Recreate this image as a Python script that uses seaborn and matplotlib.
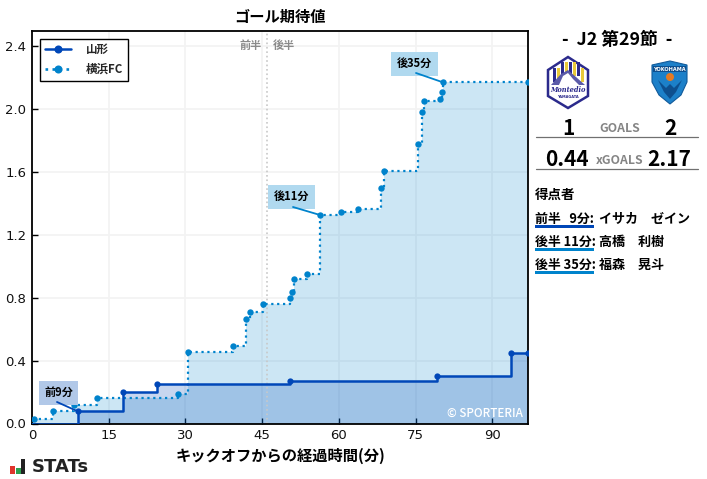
import matplotlib
matplotlib.use("Agg")
import matplotlib.pyplot as plt
from matplotlib.patches import Polygon, Circle, Rectangle
from matplotlib.lines import Line2D
import seaborn as sns
import pandas as pd

team_home = "山形"
team_away = "横浜FC"
home_min = [0, 8.9, 17.7, 24.5, 50.5, 79.2, 93.6, 97]
home_xg = [0, 0.077, 0.198, 0.249, 0.268, 0.30, 0.446, 0.446]
away_min = [0, 0.45, 4.2, 8.3, 12.8, 28.6, 30.6, 39.4, 41.9, 42.7, 45.1, 50.4, 50.9, 51.3, 53.8,
            56.4, 60.4, 63.7, 68.2, 68.8, 75.4, 76.3, 76.6, 79.8, 80.2, 80.3, 97]
away_xg = [0, 0.027, 0.077, 0.117, 0.16, 0.19, 0.452, 0.49, 0.666, 0.707, 0.757, 0.796, 0.834, 0.917, 0.948,
           1.325, 1.342, 1.362, 1.495, 1.603, 1.775, 1.978, 2.048, 2.065, 2.105, 2.17, 2.17]
xticks = [0, 15, 30, 45, 60, 75, 90]
yticks = [0.0, 0.4, 0.8, 1.2, 1.6, 2.0, 2.4]
scorers = [("前半   9分:", "イサカ　ゼイン"), ("後半 11分:", "高橋　利樹"), ("後半 35分:", "福森　晃斗")]

HOME = "#0047b8"
AWAY = "#0083cc"
W, H = 707, 479
JP = ["Noto Sans CJK JP", "DejaVu Sans"]

sns.set_theme(style="ticks")
plt.rcParams["font.family"] = ["DejaVu Sans"]
fig = plt.figure(figsize=(W / 100, H / 100), dpi=100)
ax = fig.add_axes([32 / W, 1 - 423.5 / H, (528 - 32) / W, (423.5 - 31) / H])

ax.fill_between(away_min, away_xg, 0, step="post", color=AWAY, alpha=0.2, lw=0)
ax.fill_between(home_min, home_xg, 0, step="post", color=HOME, alpha=0.22, lw=0)
df_home = pd.DataFrame({"min": home_min, "xg": home_xg})
df_away = pd.DataFrame({"min": away_min, "xg": away_xg})
sns.lineplot(data=df_home, x="min", y="xg", ax=ax, color=HOME, lw=1.8, estimator=None,
             drawstyle="steps-post", marker="o", markersize=4.5, markeredgewidth=0,
             markevery=(1, 1), label=team_home, legend=False, clip_on=True, zorder=4)
sns.lineplot(data=df_away, x="min", y="xg", ax=ax, color=AWAY, lw=1.6, ls=":", estimator=None,
             drawstyle="steps-post", marker="o", markersize=4.6, markeredgewidth=0,
             markevery=(1, 1), label=team_away, legend=False, clip_on=True, zorder=3)

ax.set_xlim(0, 97)
ax.set_ylim(0, 2.495)
ax.set_xticks(xticks)
ax.set_yticks(yticks)
ax.set_yticklabels([f"{v:.1f}" for v in yticks])
ax.grid(True, color="#f3f3f3", lw=1.3)
ax.set_axisbelow(True)
ax.tick_params(direction="in", length=4, width=1, labelsize=9.5, color="black", labelcolor="#111111", pad=4)
for s in ax.spines.values():
    s.set_visible(True)
    s.set_color("black")
    s.set_linewidth(1.3)
ax.axvline(46, color="#c8c8c8", lw=1.2, ls=":", zorder=1)
ax.set_xlabel("")
ax.set_ylabel("")

handles = [
    Line2D([], [], color=HOME, lw=1.8, marker="o", ms=5.8, mew=0),
    Line2D([], [], color=AWAY, lw=1.9, ls=":", marker="o", ms=5.8, mew=0),
]
leg = ax.legend(handles, [team_home, team_away], loc="upper left", bbox_to_anchor=(8 / 496, 1 - 7.5 / 392.5),
                borderaxespad=0, fancybox=False, framealpha=1, edgecolor="black",
                prop={"family": JP, "weight": "bold", "size": 8.3}, labelspacing=0.55,
                handlelength=2.3, handletextpad=1.25, borderpad=0.42)
leg.get_frame().set_linewidth(1.0)

ov = fig.add_axes([0, 0, 1, 1], zorder=10)
ov.set_xlim(0, W)
ov.set_ylim(H, 0)
ov.axis("off")


def t(x, y, s, size=9, color="black", ha="center", weight="bold", **kw):
    return ov.text(x, y, s, fontsize=size, color=color, ha=ha, va="center", weight=weight, family=JP, **kw)


t(280, 17, "ゴール期待値", 11)
t(280, 456, "キックオフからの経過時間(分)", 11)
t(251, 45, "前半", 8, "#8a8a8a")
t(284, 45, "後半", 8, "#8a8a8a")
t(523, 413, "© SPORTERIA", 8.4, "white", ha="right", weight="medium")

notes = [("前9分", 39, 381, 39, 24, "#b1c8e8", (57, 402), (77, 411), HOME),
         ("後11分", 268, 185, 47, 24, "#b0d9ef", (293, 207), (320, 215), AWAY),
         ("後35分", 391, 52, 47, 24, "#b0d9ef", (416, 73), (442, 82), AWAY)]
for label, bx, by, bw, bh, fc, p0, p1, lc in notes:
    ov.add_patch(Rectangle((bx, by), bw, bh, fc=fc, ec="none", zorder=2))
    t(bx + bw / 2, by + bh / 2 - 1, label, 8, zorder=3)
    ov.plot([p0[0], p1[0]], [p0[1], p1[1]], color=lc, lw=1.3, zorder=3)

t(617, 40, "-  J2 第29節  -", 12.8)
t(568, 128, "1", 15)
t(620, 129, "GOALS", 8.8, "#858585")
t(670, 128, "2", 15)
t(567, 160, "0.44", 15)
t(620, 161, "xGOALS", 8.8, "#858585")
t(669, 160, "2.17", 15)
for yy in (137, 169):
    ov.plot([536, 698], [yy, yy], color="#707070", lw=0.9)

t(535, 195, "得点者", 9.7, ha="left")
for i, (when, who) in enumerate(scorers):
    yy = 219 + i * 23
    t(535, yy, when, 9.3, ha="left")
    t(599, yy, who, 9.4, ha="left")
    ov.add_patch(Rectangle((535, yy + 6.2), 59, 2.6, fc=HOME if i == 0 else AWAY, ec="none"))

ov.add_patch(Polygon([(568, 57), (588, 70), (588, 96), (568, 108), (548, 96), (548, 70)],
                     closed=True, fc="white", ec="#2b2a8c", lw=1.8))
for k, sx in enumerate(range(553, 585, 4)):
    c = "#2b2a8c" if k % 2 == 0 else "#e8c93a"
    ov.add_patch(Rectangle((sx, 62 if 557 < sx < 578 else 68), 3.2, 14, fc=c, ec="none"))
ov.add_patch(Polygon([(551, 85), (561, 74), (568, 70), (576, 77), (585, 85)], closed=True, fc="#5b5ba8", ec="none"))
ov.add_patch(Polygon([(559, 85), (563, 76), (568, 73), (573, 79), (579, 85)], closed=True, fc="white", ec="none"))
ov.text(568, 90, "Montedio", fontsize=4.8, style="italic", weight="bold", color="#2b2a8c", ha="center", va="center",
        family="DejaVu Serif")
ov.text(568, 96.5, "YAMAGATA", fontsize=2.6, weight="bold", color="#2b2a8c", ha="center", va="center")

ov.add_patch(Polygon([(652, 65), (670, 61), (687, 65), (687, 82), (681, 95), (670, 104), (659, 95), (652, 82)],
                     closed=True, fc="#1c80c9", ec="#115a9a", lw=0.8))
ov.add_patch(Rectangle((653, 66), 33, 6, fc="#0d4f8f", ec="none"))
ov.text(669.5, 69, "YOKOHAMA", fontsize=3.6, weight="bold", color="white", ha="center", va="center")
ov.add_patch(Circle((670, 77), 4, fc="#e57a22", ec="none"))
ov.add_patch(Polygon([(658, 80), (664, 92), (670, 99), (676, 92), (682, 80), (674, 88), (670, 84), (666, 88)],
                     closed=True, fc="#0d4f8f", ec="none"))

for bx, top, c in [(10, 466, "#e0342c"), (16, 468, "#2e9e4f"), (20.5, 459, "#222222")]:
    ov.add_patch(Rectangle((bx, top), 4.5, 473.5 - top, fc=c, ec="none"))
ov.text(32, 466.5, "STATs", fontsize=13, weight="bold", color="#222222", ha="left", va="center", family="DejaVu Sans")

fig.savefig("out.png", dpi=100)
